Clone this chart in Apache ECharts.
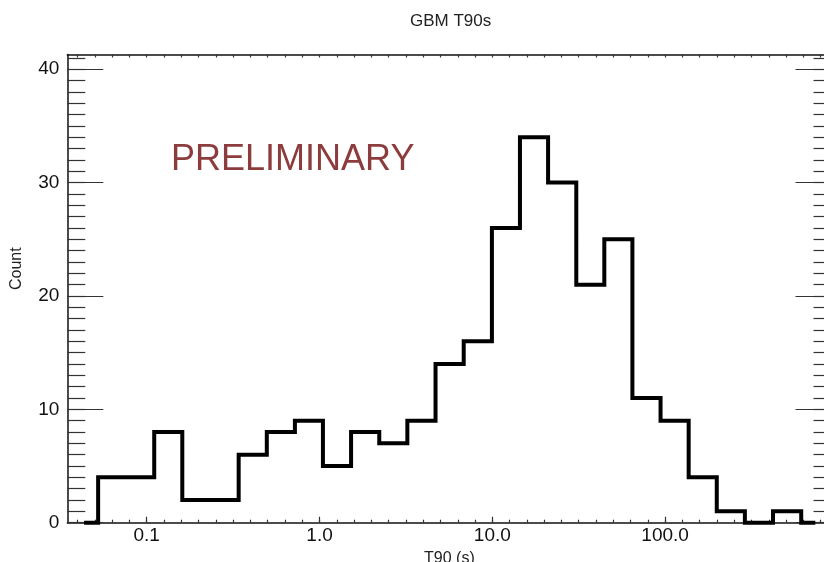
<!DOCTYPE html>
<html><head><meta charset="utf-8">
<script src="https://cdn.jsdelivr.net/npm/echarts@6/dist/echarts.min.js"></script>
<style>html,body{margin:0;padding:0;background:#fff}#c{width:824px;height:562px}</style>
</head><body><div id="c"></div>
<script>
// ---- data ----
const chartTitle = 'GBM T90s';
const xAxisName = 'T90 (s)';
const yAxisName = 'Count';
const watermark = 'PRELIMINARY';
const t90BinCenters = [0.0434, 0.0631, 0.0918, 0.133, 0.194, 0.282, 0.411, 0.597, 0.869, 1.26, 1.84, 2.67, 3.89, 5.66, 8.24, 12.0, 17.4, 25.4, 36.9, 53.6, 78.0, 113.5, 165, 240, 349, 508, 740];
const counts = [0, 4, 4, 8, 2, 2, 6, 8, 9, 5, 8, 7, 9, 14, 16, 26, 34, 30, 21, 25, 11, 9, 4, 1, 0, 1, 0];
const xTickValues = [0.1, 1, 10, 100];
const xTickLabels = ['0.1', '1.0', '10.0', '100.0'];
const yTickValues = [0, 10, 20, 30, 40];
const yTickLabels = ['0', '10', '20', '30', '40'];
const xRange = [0.0347, 918];
const yRange = [0, 41.3];

// ---- build ----
const FONT = 'Liberation Sans, Arial, Helvetica, sans-serif';
const lg = v => Math.log10(v);
const xMin = lg(xRange[0]), xMax = lg(xRange[1]);
const xMajor = xTickValues.map(lg);
const xMinor = [];
for (let k = Math.ceil(xMin * 10); k <= Math.floor(xMax * 10); k++) xMinor.push(k / 10);
const yMinor = [];
for (let k = Math.ceil(yRange[0]); k <= Math.floor(yRange[1]); k++) yMinor.push(k);

const seriesData = t90BinCenters.map((c, i) => [lg(c), counts[i]]);
const xLabelFor = v => {
  let best = 0, d = 1e9;
  xMajor.forEach((m, i) => { if (Math.abs(m - v) < d) { d = Math.abs(m - v); best = i; } });
  return xTickLabels[best];
};
const yLabelFor = v => {
  const i = yTickValues.indexOf(Math.round(v));
  return i >= 0 ? yTickLabels[i] : '';
};

const lineCol = '#111';
const tickCol = '#333';
function xAx(pos, ticks, len, withLine, withLabel) {
  return {
    type: 'value', position: pos, min: xMin, max: xMax,
    axisLine: { show: withLine, onZero: false, lineStyle: { color: lineCol, width: 1.5 } },
    axisTick: { show: true, inside: true, length: len, customValues: ticks, lineStyle: { color: tickCol, width: 1.2 } },
    axisLabel: withLabel ? { show: true, customValues: xMajor, formatter: xLabelFor, margin: 4, color: '#111', fontSize: 19, fontFamily: FONT } : { show: false },
    splitLine: { show: false }
  };
}
function yAx(pos, ticks, len, withLine, withLabel) {
  return {
    type: 'value', position: pos, min: yRange[0], max: yRange[1],
    axisLine: { show: withLine, onZero: false, lineStyle: { color: lineCol, width: 1.5 } },
    axisTick: { show: true, inside: true, length: len, customValues: ticks, lineStyle: { color: tickCol, width: 1.2 } },
    axisLabel: withLabel ? { show: true, customValues: yTickValues, formatter: yLabelFor, margin: 8, color: '#111', fontSize: 19, fontFamily: FONT } : { show: false },
    splitLine: { show: false }
  };
}

const chart = echarts.init(document.getElementById('c'));
chart.setOption({
  backgroundColor: '#fff',
  animation: false,
  title: [
    { text: chartTitle, left: 410, top: 13, padding: 0, textStyle: { fontSize: 17, fontWeight: 'normal', color: '#222', fontFamily: FONT } },
    { text: watermark, left: 171, top: 142, padding: 0, textStyle: { fontSize: 36, fontWeight: 'normal', color: '#8c3c3c', fontFamily: FONT } }
  ],
  graphic: [
    { type: 'text', x: 9, y: 290, rotation: Math.PI / 2, style: { text: yAxisName, fontSize: 16, fill: '#222', fontFamily: FONT } }
  ],
  grid: { left: 67.3, top: 54.5, right: -7.5, bottom: 39.3, containLabel: false, outerBoundsMode: 'none' },
  xAxis: [
    Object.assign(xAx('bottom', xMajor, 6, true, true), { name: xAxisName, nameLocation: 'middle', nameGap: 24, nameTextStyle: { fontSize: 16, color: '#222', fontFamily: FONT } }),
    xAx('bottom', xMinor, 3, false, false),
    xAx('top', xMinor, 3, true, false)
  ],
  yAxis: [
    yAx('left', yTickValues, 36, true, true),
    yAx('left', yMinor, 18, false, false),
    yAx('right', yTickValues, 36, true, false),
    yAx('right', yMinor, 18, false, false)
  ],
  series: [{
    type: 'line', xAxisIndex: 0, yAxisIndex: 0, data: seriesData, step: 'middle',
    symbol: 'none', clip: false,
    lineStyle: { color: '#000', width: 4, join: 'miter', cap: 'butt' }
  }]
});
</script>
</body></html>
